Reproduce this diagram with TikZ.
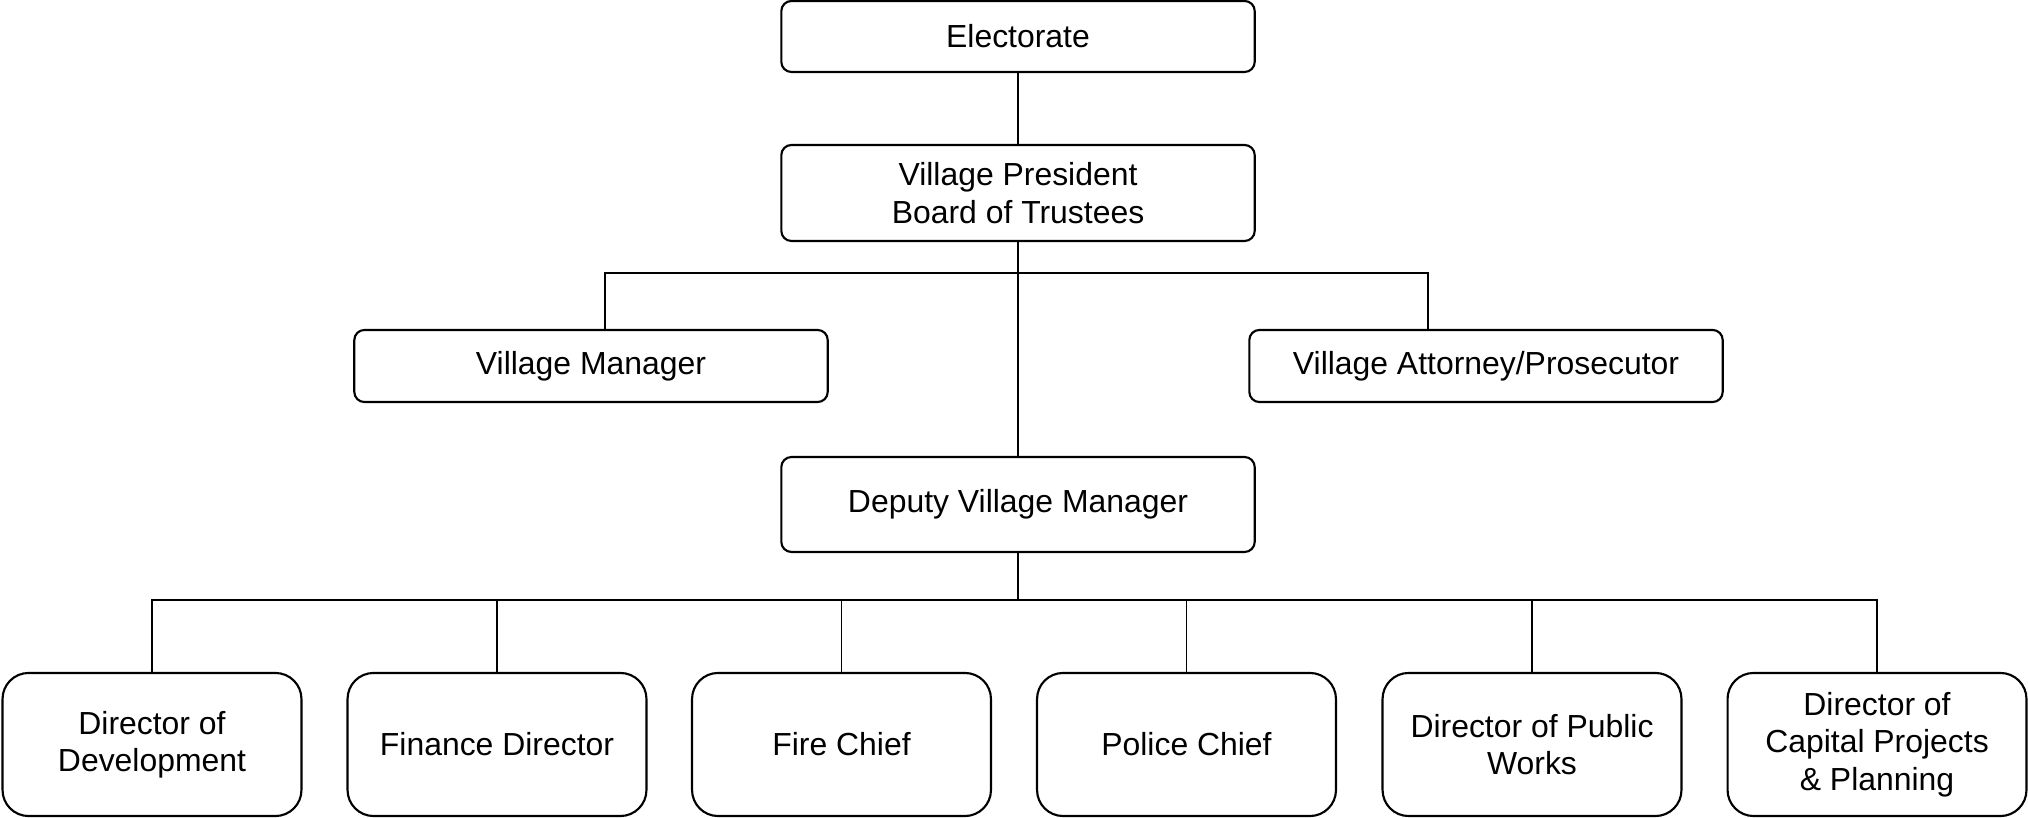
\documentclass[tikz,border=0pt]{standalone}
\usepackage{fontspec}
\setmainfont{Liberation Sans}
\usepackage{tikz}
\usetikzlibrary{calc}
\tikzset{office/.style={draw,line width=0.8pt,rounded corners=3.8pt,minimum width=178pt,align=center,font=\fontsize{12}{14.1}\selectfont},
  dept/.style={office,minimum width=112.4pt,minimum height=53.8pt,rounded corners=9.8pt},
  link/.style={line width=0.55pt}}

\begin{document}
\begin{tikzpicture}[x=0.376pt,y=-0.376pt]
\useasboundingbox (0,0) rectangle (2028,818);
\node[office,minimum height=26.7pt] (elect) at (1018,36.5) {Electorate};
\node[office,minimum height=36.1pt] (vp) at (1018,193) {Village President\\Board of Trustees};
\node[office,minimum height=27.1pt] (vm) at (591,366) {Village Manager};
\node[office,minimum height=27.1pt] (att) at (1486,366) {Village Attorney/Prosecutor};
\node[office,minimum height=35.7pt] (dvm) at (1018,504.5) {Deputy Village Manager};
\node[dept] (d1) at (152,744.5) {Director of\\Development};
\node[dept] (d2) at (497,744.5) {Finance Director};
\node[dept] (d3) at (841.5,744.5) {Fire Chief};
\node[dept] (d4) at (1186.5,744.5) {Police Chief};
\node[dept] (d5) at (1532,744.5) {Director of Public\\Works};
\node[dept] (d6) at (1877,744.5) {Director of\\Capital Projects\\\& Planning};
\coordinate (busA) at (1018,273); \coordinate (busB) at (1018,600);
\draw[link] (elect) -- (vp);
\draw[link] (vp.south) -- (dvm.north);
\draw[link] ([xshift=5.3pt]vm.north) |- (busA) -| ([xshift=-21.8pt]att.north);
\draw[link] (dvm.south) -- (busB);
\draw[link] (d1.north) |- (busB) -| (d6.north);
\foreach \n in {d2,d3,d4,d5} \draw[link] (\n.north) -- (\n.north |- busB);
\end{tikzpicture}
\end{document}
